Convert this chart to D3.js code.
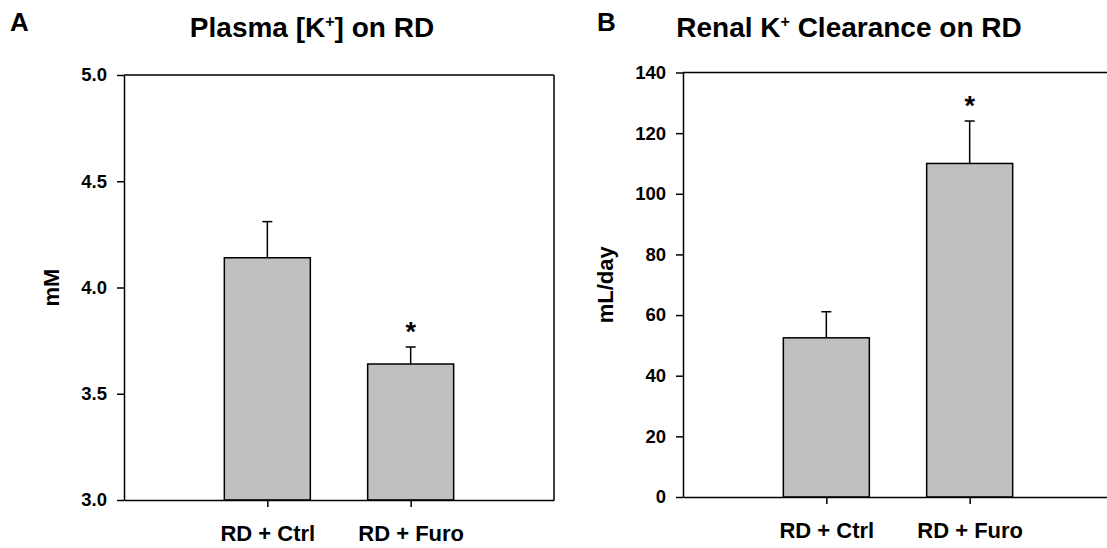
<!DOCTYPE html>
<html>
<head>
<meta charset="utf-8">
<script src="https://cdn.jsdelivr.net/npm/d3@7"></script>
<style>
  body { margin: 0; background: #fff; }
  svg { display: block; font-family: "Liberation Sans", Arial, sans-serif; }
</style>
</head>
<body>
<div id="chart"></div>
<script>
// data
const categories = ["RD + Ctrl", "RD + Furo"];
const plasmaK = [4.14, 3.64];
const plasmaKErr = [0.17, 0.08];
const plasmaSig = [false, true];
const plasmaTicks = [3.0, 3.5, 4.0, 4.5, 5.0];

const clearance = [52.5, 110];
const clearanceErr = [8.6, 14];
const clearanceSig = [false, true];
const clearanceTicks = [0, 20, 40, 60, 80, 100, 120, 140];

const width = 1107, height = 548;

const svg = d3.select("#chart")
  .append("svg")
  .attr("width", width)
  .attr("height", height);

function drawPanel(p) {
  const x = d3.scaleLinear()
    .domain([0, 3])
    .range([p.left, p.right]);

  const y = d3.scaleLinear()
    .domain(p.yDomain)
    .range([p.bottom, p.top]);

  const g = svg.append("g");

  const data = categories.map((c, i) => ({
    name: c, pos: i + 1, value: p.values[i], err: p.errs[i], sig: p.sig[i]
  }));

  // box: top and right border
  g.append("line")
    .attr("x1", p.left).attr("x2", p.right)
    .attr("y1", p.top).attr("y2", p.top)
    .attr("stroke", "#000").attr("stroke-width", 1.5);
  g.append("line")
    .attr("x1", p.right).attr("x2", p.right)
    .attr("y1", p.top).attr("y2", p.bottom)
    .attr("stroke", "#000").attr("stroke-width", 1.5);

  const barW = x(0.6) - x(0);

  // error bars
  g.selectAll(".err")
    .data(data)
    .join("line")
    .attr("x1", d => x(d.pos)).attr("x2", d => x(d.pos))
    .attr("y1", d => y(d.value)).attr("y2", d => y(d.value + d.err))
    .attr("stroke", "#000").attr("stroke-width", 1.5);
  g.selectAll(".cap")
    .data(data)
    .join("line")
    .attr("x1", d => x(d.pos) - 5).attr("x2", d => x(d.pos) + 5)
    .attr("y1", d => y(d.value + d.err)).attr("y2", d => y(d.value + d.err))
    .attr("stroke", "#000").attr("stroke-width", 1.5);

  g.selectAll(".bar")
    .data(data)
    .join("rect")
    .attr("x", d => x(d.pos) - barW / 2)
    .attr("width", barW)
    .attr("y", d => y(d.value))
    .attr("height", d => y(p.yDomain[0]) - y(d.value))
    .attr("fill", "#c0c0c0")
    .attr("stroke", "#000")
    .attr("stroke-width", 1.5);

  g.selectAll(".star")
    .data(data.filter(d => d.sig))
    .join("text")
    .attr("x", d => x(d.pos))
    .attr("y", d => y(d.value + d.err) - 6)
    .attr("text-anchor", "middle")
    .attr("font-size", 27)
    .attr("font-weight", "bold")
    .text("*");

  const yAxis = d3.axisLeft(y)
    .tickValues(p.ticks)
    .tickFormat(p.format)
    .tickSize(7)
    .tickSizeOuter(0)
    .tickPadding(10);

  const yg = g.append("g")
    .attr("transform", `translate(${p.left},0)`)
    .call(yAxis);
  yg.selectAll("text").attr("font-size", 18.5).attr("font-weight", "bold").attr("fill", "#000");

  const xAxis = d3.axisBottom(x)
    .tickValues([1, 2])
    .tickFormat(d => categories[d - 1])
    .tickSize(7)
    .tickSizeOuter(0)
    .tickPadding(18);

  const xg = g.append("g")
    .attr("transform", `translate(0,${p.bottom})`)
    .call(xAxis);
  xg.selectAll("text").attr("font-size", 22).attr("font-weight", "bold").attr("fill", "#000");

  [yg, xg].forEach(a => {
    a.select(".domain").attr("stroke-width", 1.5);
    a.selectAll("line").attr("stroke-width", 1.5);
  });

  g.append("text")
    .attr("transform", `translate(${p.yLabelX},${(p.top + p.bottom) / 2}) rotate(-90)`)
    .attr("text-anchor", "middle")
    .attr("font-size", 22)
    .attr("font-weight", "bold")
    .text(p.yLabel);

  const title = g.append("text")
    .attr("x", p.titleX)
    .attr("y", 37)
    .attr("text-anchor", "middle")
    .attr("font-size", 28)
    .attr("font-weight", "bold");
  title.append("tspan").text(p.title[0]);
  title.append("tspan").attr("font-size", 16).attr("dy", -10).text("+");
  title.append("tspan").attr("dy", 10).text(p.title[1]);

  g.append("text")
    .attr("x", p.letterX)
    .attr("y", 31)
    .attr("font-size", 26)
    .attr("font-weight", "bold")
    .text(p.letter);
}

drawPanel({
  left: 124, right: 554, top: 75, bottom: 500,
  yDomain: [3, 5], values: plasmaK, errs: plasmaKErr, sig: plasmaSig,
  ticks: plasmaTicks, format: d3.format(".1f"),
  yLabel: "mM", yLabelX: 59,
  title: ["Plasma [K", "] on RD"], titleX: 312,
  letter: "A", letterX: 10
});

drawPanel({
  left: 683, right: 1113, top: 72.5, bottom: 497,
  yDomain: [0, 140], values: clearance, errs: clearanceErr, sig: clearanceSig,
  ticks: clearanceTicks, format: d3.format("d"),
  yLabel: "mL/day", yLabelX: 613,
  title: ["Renal K", " Clearance on RD"], titleX: 849,
  letter: "B", letterX: 597
});
</script>
</body>
</html>
